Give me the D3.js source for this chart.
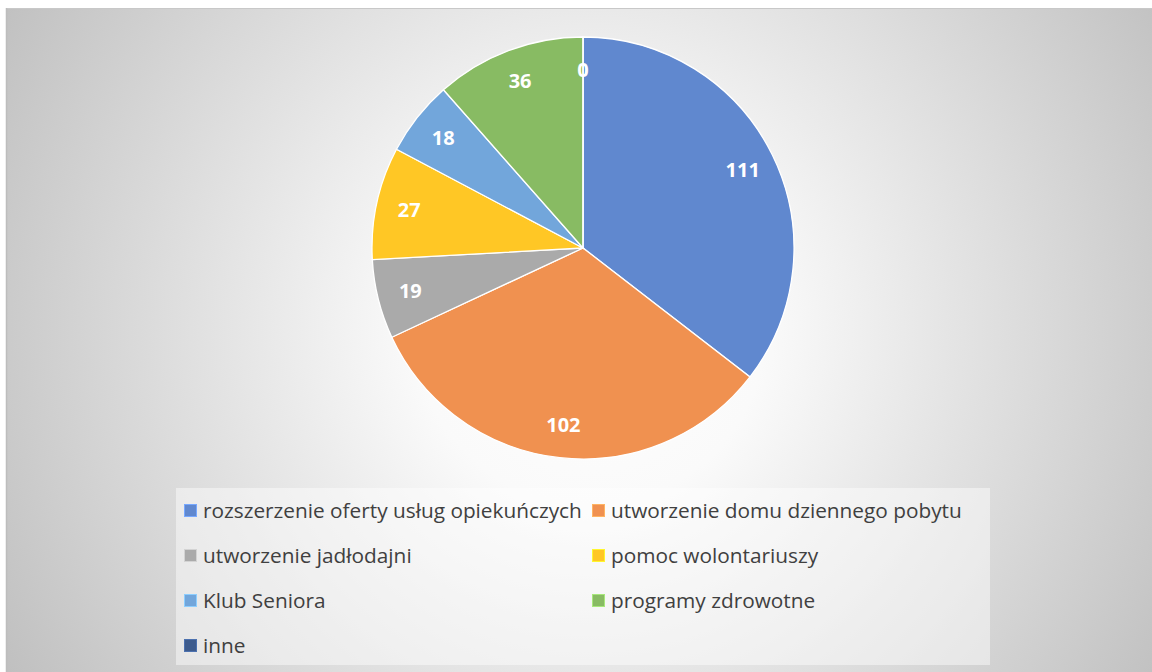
<!DOCTYPE html>
<html>
<head>
<meta charset="utf-8">
<script src="https://d3js.org/d3.v7.min.js"></script>
<style>
    body { margin: 0; background: #ffffff; }
    #chart { width: 1152px; height: 672px; }
</style>
</head>
<body>
<div id="chart"></div>
<script>
    // Data
    var categories = ["rozszerzenie oferty usług opiekuńczych", "utworzenie domu dziennego pobytu",
        "utworzenie jadłodajni", "pomoc wolontariuszy", "Klub Seniora", "programy zdrowotne", "inne"];
    var values = [111, 102, 19, 27, 18, 36, 0];
    var colors = ["#6088cf", "#f09150", "#aaaaaa", "#ffc725", "#72a6db", "#88bb63", "#3d5b8d"];

    var W = 1152, H = 672;
    var svg = d3.select("#chart").append("svg")
        .attr("width", W).attr("height", H);

    // Background gradient like the office chart area
    var defs = svg.append("defs");
    var grad = defs.append("radialGradient")
        .attr("id", "bg")
        .attr("gradientUnits", "userSpaceOnUse")
        .attr("cx", 590).attr("cy", 330).attr("r", 700);
    grad.append("stop").attr("offset", "0%").attr("stop-color", "#ffffff");
    grad.append("stop").attr("offset", "25%").attr("stop-color", "#fafafa");
    grad.append("stop").attr("offset", "100%").attr("stop-color", "#bdbdbd");

    svg.append("rect")
        .attr("x", 7).attr("y", 8).attr("width", W - 7).attr("height", H - 8)
        .attr("fill", "url(#bg)");
    svg.append("line").attr("x1", 7).attr("x2", W).attr("y1", 8.5).attr("y2", 8.5)
        .attr("stroke", "#c8c8c8").attr("stroke-width", 1);
    svg.append("line").attr("x1", 6.5).attr("x2", 6.5).attr("y1", 8).attr("y2", H)
        .attr("stroke", "#bdbdbd").attr("stroke-width", 1.5);

    // Pie
    var cx = 583, cy = 248, radius = 211;
    var g = svg.append("g").attr("transform", "translate(" + cx + "," + cy + ")");

    var pie = d3.pie().sort(null).value(function (d) { return d; });
    var arcs = pie(values);
    var arc = d3.arc().innerRadius(0).outerRadius(radius);
    var labelArc = d3.arc().innerRadius(178).outerRadius(178);

    g.selectAll("path.slice")
        .data(arcs)
        .enter().append("path")
        .attr("class", "slice")
        .attr("d", arc)
        .attr("fill", function (d, i) { return colors[i]; })
        .attr("stroke", "#ffffff")
        .attr("stroke-width", 1.3);

    g.selectAll("text.lbl")
        .data(arcs)
        .enter().append("text")
        .attr("class", "lbl")
        .attr("transform", function (d) { return "translate(" + labelArc.centroid(d) + ")"; })
        .attr("text-anchor", "middle")
        .attr("dy", "0.35em")
        .style("font-family", "'Open Sans', 'Noto Sans', sans-serif")
        .style("font-size", "20px")
        .style("font-weight", "bold")
        .style("fill", "#ffffff")
        .text(function (d) { return d.data; });

    // Legend
    var legend = svg.append("g");
    legend.append("rect")
        .attr("x", 176).attr("y", 488).attr("width", 814).attr("height", 177)
        .attr("fill", "#ffffff").attr("fill-opacity", 0.45);

    var colX = [184, 592], rowY = [511, 556, 601, 646];
    var items = legend.selectAll("g.item")
        .data(categories)
        .enter().append("g")
        .attr("class", "item")
        .attr("transform", function (d, i) {
            return "translate(" + colX[i % 2] + "," + rowY[Math.floor(i / 2)] + ")";
        });
    items.append("rect")
        .attr("x", 0.5).attr("y", -6.5).attr("width", 12).attr("height", 12)
        .attr("fill", function (d, i) { return colors[i]; })
        .attr("stroke", function (d, i) { return d3.color(colors[i]).brighter(0.6); })
        .attr("stroke-width", 1);
    items.append("text")
        .attr("x", 19).attr("dy", "0.35em")
        .style("font-family", "'Open Sans', 'Noto Sans', sans-serif")
        .style("font-size", "20.8px")
        .style("fill", "#404040")
        .text(function (d) { return d; });
</script>
</body>
</html>
